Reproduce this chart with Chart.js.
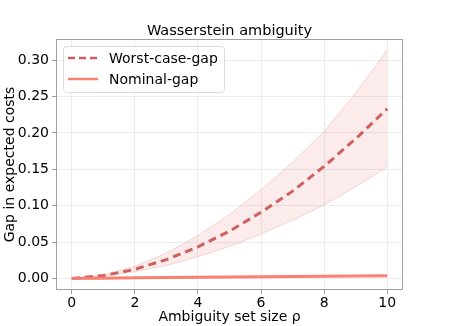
<!DOCTYPE html>
<html>
<head>
<meta charset="utf-8">
<script src="https://cdn.jsdelivr.net/npm/chart.js@4.4.0/dist/chart.umd.min.js"></script>
<style>
  html, body { margin: 0; padding: 0; background: #fff; }
  #wrap { width: 449px; height: 326px; position: relative; }
</style>
</head>
<body>
<div id="wrap"><canvas id="gapChart"></canvas></div>
<script>
// values
const rho = [0, 1, 2, 3, 4, 5, 6, 7, 8, 9, 10];
const worstCaseGap = [0, 0.004, 0.0125, 0.026, 0.0435, 0.065, 0.091, 0.12, 0.154, 0.192, 0.233];
const worstCaseUpper = [0, 0.005, 0.017, 0.035, 0.059, 0.088, 0.122, 0.16, 0.202, 0.255, 0.314];
const worstCaseLower = [0, 0.003, 0.0093, 0.018, 0.030, 0.044, 0.061, 0.080, 0.101, 0.126, 0.153];
const nominalGap = [0, 0.0005, 0.001, 0.0014, 0.0018, 0.0022, 0.0025, 0.0029, 0.0032, 0.0035, 0.0038];
const xTicks = [0, 2, 4, 6, 8, 10];
const yTicks = [0, 0.05, 0.10, 0.15, 0.20, 0.25, 0.30];
const legendLabels = ['Worst-case-gap', 'Nominal-gap'];

const FONT = 'DejaVu Sans';
const meanColor = 'rgb(205, 92, 92)';
const nominalColor = 'rgb(250, 128, 114)';

const pts = (ys) => rho.map((x, i) => ({ x: x, y: ys[i] }));

// frame, title and legend in matplotlib style
const decorations = {
  id: 'decorations',
  afterDraw(chart) {
    const { ctx, chartArea: a } = chart;
    ctx.save();
    ctx.strokeStyle = '#a0a0a0';
    ctx.lineWidth = 1;
    ctx.strokeRect(a.left + 0.5, a.top + 0.5, a.right - a.left - 1, a.bottom - a.top - 1);

    ctx.fillStyle = '#000';
    ctx.font = '14.5px "' + FONT + '"';
    ctx.textAlign = 'center';
    ctx.textBaseline = 'alphabetic';
    ctx.fillText('Wasserstein ambiguity', (a.left + a.right) / 2, a.top - 4);

    // legend box
    const lx = a.left + 7, ly = a.top + 7, lw = 161, lh = 46;
    ctx.fillStyle = 'rgba(255,255,255,0.85)';
    ctx.strokeStyle = '#dcdcdc';
    ctx.beginPath();
    ctx.roundRect(lx + 0.5, ly + 0.5, lw, lh, 3);
    ctx.fill();
    ctx.stroke();

    const rows = [
      { y: ly + 12, color: meanColor, dash: [7, 4] },
      { y: ly + 33, color: nominalColor, dash: [] }
    ];
    rows.forEach((r, i) => {
      ctx.strokeStyle = r.color;
      ctx.lineWidth = 2.5;
      ctx.setLineDash(r.dash);
      ctx.beginPath();
      ctx.moveTo(lx + 5, r.y);
      ctx.lineTo(lx + 35, r.y);
      ctx.stroke();
      ctx.setLineDash([]);
      ctx.fillStyle = '#000';
      ctx.font = '14px "' + FONT + '"';
      ctx.textAlign = 'left';
      ctx.textBaseline = 'middle';
      ctx.fillText(legendLabels[i], lx + 46, r.y + 1);
    });
    ctx.restore();
  }
};

new Chart(document.getElementById('gapChart'), {
  type: 'scatter',
  data: {
    datasets: [
      {
        data: pts(worstCaseUpper),
        showLine: true,
        borderColor: 'rgba(225, 110, 110, 0.25)',
        borderWidth: 1,
        backgroundColor: 'rgba(230, 120, 120, 0.15)',
        pointRadius: 0,
        fill: '+1'
      },
      {
        data: pts(worstCaseLower),
        showLine: true,
        borderColor: 'rgba(225, 110, 110, 0.25)',
        borderWidth: 1,
        pointRadius: 0,
        fill: false
      },
      {
        data: pts(nominalGap),
        showLine: true,
        borderColor: nominalColor,
        borderWidth: 3,
        pointRadius: 0,
        fill: false
      },
      {
        data: pts(worstCaseGap),
        showLine: true,
        borderColor: meanColor,
        borderWidth: 3,
        borderDash: [8, 5],
        pointRadius: 0,
        fill: false
      }
    ]
  },
  options: {
    responsive: true,
    maintainAspectRatio: false,
    animation: false,
    layout: { padding: { left: 0, right: 46, top: 39, bottom: 0 } },
    plugins: {
      legend: { display: false },
      tooltip: { enabled: false }
    },
    scales: {
      x: {
        type: 'linear',
        min: -0.5,
        max: 10.5,
        afterBuildTicks: (s) => { s.ticks = xTicks.map(v => ({ value: v })); },
        afterFit: (s) => { s.height = 36; },
        grid: { color: '#ececec', tickColor: '#a0a0a0', tickLength: 4, drawOnChartArea: true },
        border: { display: false },
        ticks: { color: '#000', font: { family: FONT, size: 14 }, padding: 1, maxRotation: 0 },
        title: { display: true, text: 'Ambiguity set size ρ', color: '#000', font: { family: FONT, size: 14 }, padding: { top: -2, bottom: 0 } }
      },
      y: {
        type: 'linear',
        min: -0.0158,
        max: 0.329,
        afterBuildTicks: (s) => { s.ticks = yTicks.map(v => ({ value: v })); },
        afterFit: (s) => { s.width = 56; },
        grid: { color: '#ececec', tickColor: '#a0a0a0', tickLength: 4 },
        border: { display: false },
        ticks: {
          color: '#000',
          font: { family: FONT, size: 14 },
          padding: 3,
          callback: (v) => v.toFixed(2)
        },
        title: { display: true, text: 'Gap in expected costs', color: '#000', font: { family: FONT, size: 14 }, padding: { top: 2, bottom: 0 } }
      }
    }
  },
  plugins: [decorations]
});
</script>
</body>
</html>
